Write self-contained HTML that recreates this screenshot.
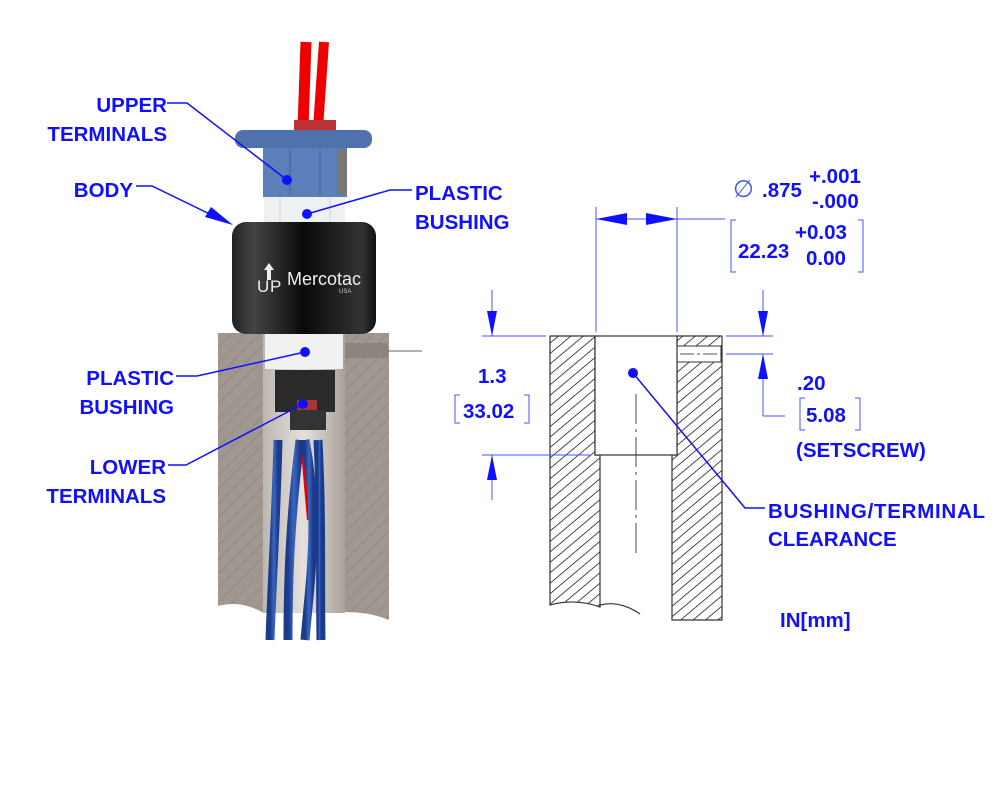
<!DOCTYPE html>
<html><head><meta charset="utf-8"><style>
html,body{margin:0;padding:0;background:#fff;}
svg{display:block;}
.t{font-family:"Liberation Sans",sans-serif;font-weight:bold;font-size:20.5px;fill:#1010ff;}
</style></head><body>
<svg width="1000" height="800" viewBox="0 0 1000 800" xmlns="http://www.w3.org/2000/svg">
<defs>
<pattern id="hp" width="8" height="8" patternUnits="userSpaceOnUse" patternTransform="rotate(-40)">
<rect width="8" height="8" fill="#fff"/><line x1="0" y1="0" x2="8" y2="0" stroke="#000" stroke-width="1.4"/>
</pattern>
<pattern id="gp" width="10" height="10" patternUnits="userSpaceOnUse" patternTransform="rotate(-45)">
<rect width="10" height="10" fill="#a09890"/><line x1="0" y1="0" x2="10" y2="0" stroke="#857c74" stroke-width="1"/>
</pattern>
<linearGradient id="bk" x1="0" x2="1"><stop offset="0" stop-color="#222"/><stop offset="0.15" stop-color="#444"/><stop offset="0.5" stop-color="#0a0a0a"/><stop offset="0.9" stop-color="#333"/><stop offset="1" stop-color="#111"/></linearGradient>
<linearGradient id="bl" x1="0" x2="1"><stop offset="0" stop-color="#1a3a8a"/><stop offset="0.5" stop-color="#3a66c0"/><stop offset="1" stop-color="#1a3a8a"/></linearGradient>
<linearGradient id="bore" x1="0" x2="1"><stop offset="0" stop-color="#bdb7b0"/><stop offset="0.5" stop-color="#e4e0dc"/><stop offset="1" stop-color="#a9a29a"/></linearGradient>
</defs>

<path d="M218 333 H389 V620 Q370 612 345 612 L262 612 Q240 600 218 606 Z" fill="url(#gp)"/>
<rect x="263" y="333" width="82" height="280" fill="url(#bore)"/>
<rect x="265" y="333" width="78" height="36" fill="#f1f1f1"/>
<rect x="345" y="343" width="43" height="15" fill="#8a8580"/>
<line x1="388" y1="351" x2="422" y2="351" stroke="#666" stroke-width="1"/>
<rect x="275" y="370" width="60" height="42" fill="#2a2a2a"/>
<rect x="297" y="400" width="20" height="15" fill="#a33"/>
<rect x="290" y="410" width="36" height="20" fill="#333"/>
<path d="M300 440 L307 520 L312 520 L308 440Z" fill="#e00"/>
<g fill="none" stroke="url(#bl)" stroke-width="9">
<path d="M278 440 C276 520 272 580 270 640"/>
<path d="M300 440 C290 520 288 580 288 640"/>
<path d="M305 440 C320 520 310 580 305 640"/>
<path d="M318 440 C322 520 320 580 321 640"/>
</g>
<rect x="264" y="192" width="81" height="35" fill="#eef0f2"/>
<line x1="280" y1="192" x2="280" y2="225" stroke="#cfd3d6"/><line x1="330" y1="192" x2="330" y2="225" stroke="#cfd3d6"/>
<rect x="232" y="222" width="144" height="112" rx="14" fill="url(#bk)"/>
<text x="257" y="292" font-family="Liberation Sans,sans-serif" font-size="17" fill="#eee">U</text>
<text x="270" y="292" font-family="Liberation Sans,sans-serif" font-size="17" fill="#eee">P</text>
<path d="M269 263 l-5 7 h3 v10 h4 v-10 h3z" fill="#eee"/>
<text x="287" y="285" font-family="Liberation Sans,sans-serif" font-size="18" fill="#eee">Mercotac</text>
<text x="339" y="293" font-family="Liberation Sans,sans-serif" font-size="6" fill="#ccc">USA</text>
<path d="M306 42 L303 128" stroke="#e00" stroke-width="11" fill="none"/>
<path d="M324 42 L318 128" stroke="#e00" stroke-width="10" fill="none"/>
<rect x="294" y="120" width="42" height="12" fill="#b33"/>
<rect x="263" y="145" width="84" height="52" fill="#5b7fb8"/>
<rect x="235" y="130" width="137" height="18" rx="8" fill="#4f72ac"/>
<line x1="290" y1="150" x2="290" y2="195" stroke="#3f5f95"/><line x1="320" y1="150" x2="320" y2="195" stroke="#3f5f95"/>
<rect x="337" y="150" width="10" height="45" fill="#777"/>

<path d="M550 336 H595 V455 H600 V607 Q575 598 550 605 Z" fill="url(#hp)" stroke="#333" stroke-width="1.2"/>
<path d="M677 336 H722 V620 H672 V455 H677 Z" fill="url(#hp)" stroke="#333" stroke-width="1.2"/>
<rect x="676" y="346" width="45" height="16" fill="#fff" stroke="#333" stroke-width="1"/>
<line x1="680" y1="354" x2="760" y2="354" stroke="#555" stroke-dasharray="14,3,3,3"/>
<rect x="595" y="336" width="82" height="119" fill="#fff" stroke="#333" stroke-width="1.2"/>
<path d="M600 605 Q620 600 640 614" fill="none" stroke="#333" stroke-width="1.2"/>
<line x1="636" y1="394" x2="636" y2="555" stroke="#444" stroke-dasharray="30,5,3,5"/>

<g stroke="#4455ff" stroke-width="1" fill="none">
<line x1="596" y1="207" x2="596" y2="332"/><line x1="677" y1="207" x2="677" y2="332"/>
<line x1="596" y1="219" x2="677" y2="219"/><line x1="677" y1="219" x2="725" y2="219"/>
<line x1="482" y1="336" x2="546" y2="336"/><line x1="482" y1="455" x2="590" y2="455"/>
<line x1="492" y1="290" x2="492" y2="336"/><line x1="492" y1="455" x2="492" y2="500"/>
<line x1="726" y1="336" x2="773" y2="336"/><line x1="726" y1="354" x2="773" y2="354"/>
<line x1="763" y1="290" x2="763" y2="336"/><line x1="763" y1="354" x2="763" y2="416"/><line x1="763" y1="416" x2="785" y2="416"/>
<path d="M736 220 h-5 v52 h5 M858 220 h5 v52 h-5"/>
<path d="M460 395 h-5 v28 h5 M524 395 h5 v28 h-5"/>
<path d="M805 398 h-5 v32 h5 M855 398 h5 v32 h-5"/>
</g>
<g fill="#1010ff">
<path d="M596 219 l31 -6 v12z"/><path d="M677 219 l-31 -6 v12z"/>
<path d="M492 336 l-5 -25 h10z"/><path d="M492 455 l-5 25 h10z"/>
<path d="M763 336 l-5 -25 h10z"/><path d="M763 354 l-5 25 h10z"/>
</g>

<g stroke="#1010ff" stroke-width="1.5" fill="none">
<path d="M167 103 H187 L287 180"/>
<path d="M136 186 H152 L222 220"/>
<path d="M412 190 H390 L307 214"/>
<path d="M176 376 H197 L305 352"/>
<path d="M168 465 H186 L303 404"/>
<path d="M633 373 L745 508 H765"/>
</g>
<path d="M233 225 l-28 -8 l6 -10z" fill="#1010ff"/>
<g fill="#1010ff">
<circle cx="287" cy="180" r="5"/><circle cx="307" cy="214" r="5"/><circle cx="305" cy="352" r="5"/><circle cx="303" cy="404" r="5"/><circle cx="633" cy="373" r="5"/>
</g>

<text class="t" x="167" y="112" text-anchor="end">UPPER</text>
<text class="t" x="167" y="141" text-anchor="end">TERMINALS</text>
<text class="t" x="133" y="197" text-anchor="end">BODY</text>
<text class="t" x="415" y="200">PLASTIC</text>
<text class="t" x="415" y="229">BUSHING</text>
<text class="t" x="174" y="385" text-anchor="end">PLASTIC</text>
<text class="t" x="174" y="414" text-anchor="end">BUSHING</text>
<text class="t" x="166" y="474" text-anchor="end">LOWER</text>
<text class="t" x="166" y="503" text-anchor="end">TERMINALS</text>
<text x="733" y="197" font-family="Liberation Sans,sans-serif" font-size="24" fill="#4455ff">∅</text>
<text class="t" x="762" y="197">.875</text>
<text class="t" x="809" y="183">+.001</text>
<text class="t" x="812" y="208">-.000</text>
<text class="t" x="738" y="258">22.23</text>
<text class="t" x="795" y="239">+0.03</text>
<text class="t" x="806" y="265">0.00</text>
<text class="t" x="478" y="383">1.3</text>
<text class="t" x="463" y="418">33.02</text>
<text class="t" x="797" y="390">.20</text>
<text class="t" x="806" y="422">5.08</text>
<text class="t" x="796" y="457">(SETSCREW)</text>
<text class="t" x="768" y="518" textLength="217">BUSHING/TERMINAL</text>
<text class="t" x="768" y="546">CLEARANCE</text>
<text class="t" x="780" y="627">IN[mm]</text>
</svg>
</body></html>
